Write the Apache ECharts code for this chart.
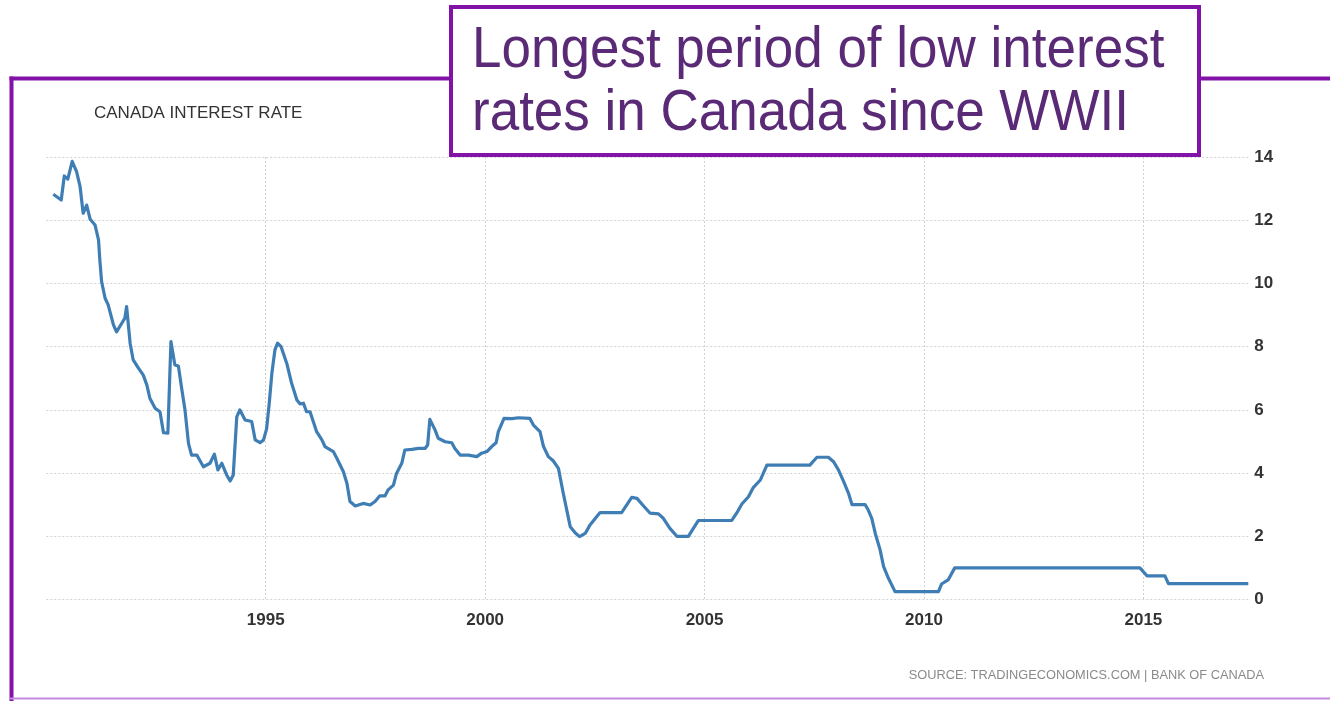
<!DOCTYPE html>
<html><head><meta charset="utf-8">
<script src="https://cdn.jsdelivr.net/npm/echarts@6/dist/echarts.min.js"></script>
<style>html,body{margin:0;padding:0;background:#fff;overflow:hidden}#c{width:1330px;height:701px}</style>
</head><body><div id="c"></div>
<script>
// ---- data (decimal year, interest rate %) ----
const years = [
  1990.16,1990.34,1990.41,1990.49,1990.59,1990.69,1990.77,1990.84,1990.92,1991.00,
  1991.11,1991.19,1991.22,1991.26,1991.34,1991.41,1991.53,1991.60,1991.72,1991.79,
  1991.83,1991.91,1991.98,1992.10,1992.21,1992.29,1992.36,1992.48,1992.59,1992.67,
  1992.77,1992.84,1992.93,1993.01,1993.09,1993.16,1993.24,1993.31,1993.43,1993.58,
  1993.73,1993.83,1993.91,1994.00,1994.11,1994.19,1994.26,1994.34,1994.41,1994.53,
  1994.68,1994.76,1994.87,1994.95,1995.02,1995.08,1995.14,1995.21,1995.27,1995.35,
  1995.48,1995.59,1995.71,1995.78,1995.86,1995.93,1996.01,1996.16,1996.28,1996.35,
  1996.54,1996.62,1996.77,1996.85,1996.92,1997.04,1997.22,1997.38,1997.49,1997.60,
  1997.72,1997.79,1997.91,1997.98,1998.10,1998.17,1998.33,1998.48,1998.63,1998.69,
  1998.74,1998.86,1998.93,1999.09,1999.24,1999.31,1999.43,1999.62,1999.81,1999.92,
  2000.04,2000.15,2000.25,2000.30,2000.43,2000.61,2000.76,2001.02,2001.10,2001.25,
  2001.33,2001.44,2001.55,2001.67,2001.78,2001.94,2002.05,2002.15,2002.28,2002.39,
  2002.54,2002.62,2003.11,2003.34,2003.46,2003.61,2003.76,2003.95,2004.06,2004.21,
  2004.37,2004.63,2004.86,2005.62,2005.73,2005.85,2006.00,2006.11,2006.27,2006.42,
  2007.40,2007.56,2007.82,2007.94,2008.05,2008.17,2008.28,2008.36,2008.66,2008.73,
  2008.81,2008.89,2009.00,2009.08,2009.19,2009.34,2010.33,2010.40,2010.55,2010.70,
  2014.92,2015.08,2015.49,2015.57,2017.39
];
const rates = [
  12.82,12.64,13.40,13.30,13.86,13.54,13.06,12.22,12.48,12.03,
  11.85,11.38,10.74,10.06,9.53,9.32,8.69,8.47,8.74,8.90,
  9.27,8.11,7.58,7.32,7.10,6.79,6.37,6.05,5.94,5.28,
  5.26,8.16,7.42,7.39,6.63,6.00,4.94,4.57,4.57,4.20,
  4.31,4.60,4.10,4.31,3.94,3.75,3.94,5.78,6.00,5.68,
  5.63,5.05,4.96,5.05,5.40,6.20,7.16,7.90,8.11,8.00,
  7.47,6.84,6.31,6.19,6.21,5.94,5.94,5.31,5.05,4.84,
  4.68,4.47,4.04,3.68,3.10,2.96,3.04,2.99,3.10,3.28,
  3.28,3.47,3.62,3.99,4.31,4.73,4.75,4.78,4.78,4.89,
  5.70,5.36,5.10,4.99,4.96,4.78,4.57,4.57,4.52,4.63,
  4.68,4.84,4.96,5.31,5.73,5.72,5.75,5.73,5.52,5.31,
  4.84,4.52,4.39,4.15,3.36,2.30,2.11,1.99,2.09,2.36,
  2.62,2.75,2.75,3.23,3.20,2.96,2.73,2.71,2.57,2.25,
  2.00,2.00,2.50,2.50,2.73,3.02,3.25,3.54,3.78,4.25,
  4.25,4.50,4.50,4.36,4.10,3.73,3.36,3.00,3.00,2.83,
  2.57,2.09,1.57,1.04,0.67,0.25,0.25,0.49,0.62,1.00,
  1.00,0.75,0.75,0.50,0.50
];
const xLabelYears = [1995, 2000, 2005, 2010, 2015];
const chartTitle = 'CANADA INTEREST RATE';
const noteLines = ['Longest period of low interest', 'rates in Canada since WWII'];
const sourceText = 'SOURCE: TRADINGECONOMICS.COM | BANK OF CANADA';

const PURPLE = '#8312a8';
const chart = echarts.init(document.getElementById('c'), null, {renderer: 'canvas'});
const lineData = years.map((y, i) => [y, rates[i]]);

chart.setOption({
  animation: false,
  backgroundColor: '#ffffff',
  title: {
    text: chartTitle,
    left: 94, top: 105, padding: 0,
    textStyle: {fontFamily: 'Liberation Sans', fontSize: 17, fontWeight: 'normal', color: '#333333'}
  },
  grid: {left: 46.3, right: 81.7, top: 157, bottom: 101.5, containLabel: false},
  xAxis: {
    type: 'value', min: 1990, max: 2017.39, interval: 5,
    axisLine: {show: false}, axisTick: {show: false},
    splitLine: {show: true, showMinLine: false, showMaxLine: false,
      lineStyle: {color: '#d2d2d2', type: [2, 2], width: 1}},
    axisLabel: {
      margin: 12, fontFamily: 'Liberation Sans', fontSize: 17, fontWeight: 'bold', color: '#333333',
      formatter: v => xLabelYears.indexOf(Math.round(v * 100) / 100) >= 0 ? String(v) : ''
    }
  },
  yAxis: {
    type: 'value', position: 'right', min: 0, max: 14, interval: 2,
    axisLine: {show: false}, axisTick: {show: false},
    splitLine: {show: true, lineStyle: {color: '#d2d2d2', type: [2, 2], width: 1}},
    axisLabel: {margin: 6, fontFamily: 'Liberation Sans', fontSize: 17, fontWeight: 'bold', color: '#333333'}
  },
  series: [{
    type: 'line', data: lineData, showSymbol: false, symbol: 'none',
    lineStyle: {color: '#3f7db5', width: 3.2, join: 'round'},
    z: 3
  }],
  graphic: [
    // outer purple frame
    {type: 'line', z: 50, shape: {x1: 11.5, y1: 76.5, x2: 11.5, y2: 701}, style: {stroke: PURPLE, lineWidth: 4}},
    {type: 'line', z: 50, shape: {x1: 9.5, y1: 78.5, x2: 452, y2: 78.5}, style: {stroke: PURPLE, lineWidth: 4}},
    {type: 'line', z: 50, shape: {x1: 1199, y1: 78.5, x2: 1330, y2: 78.5}, style: {stroke: PURPLE, lineWidth: 4}},
    {type: 'line', z: 50, shape: {x1: 10, y1: 698.5, x2: 1330, y2: 698.5}, style: {stroke: '#c48ae0', lineWidth: 2}},
    // annotation box
    {type: 'rect', z: 60, shape: {x: 451, y: 7, width: 748, height: 148},
      style: {fill: '#ffffff', stroke: PURPLE, lineWidth: 4}},
    {type: 'text', z: 61, x: 472, y: 51, scaleY: 1.1,
      style: {text: noteLines[0], font: '53px "Liberation Sans"', fill: '#5a2a76', verticalAlign: 'middle', align: 'left'}},
    {type: 'text', z: 61, x: 472, y: 114, scaleY: 1.1,
      style: {text: noteLines[1], font: '53px "Liberation Sans"', fill: '#5a2a76', verticalAlign: 'middle', align: 'left'}},
    // source
    {type: 'text', z: 61, x: 1264, y: 675,
      style: {text: sourceText, font: '12.8px "Liberation Sans"', fill: '#8a8a8a', verticalAlign: 'middle', align: 'right'}}
  ]
});
</script>
</body></html>
